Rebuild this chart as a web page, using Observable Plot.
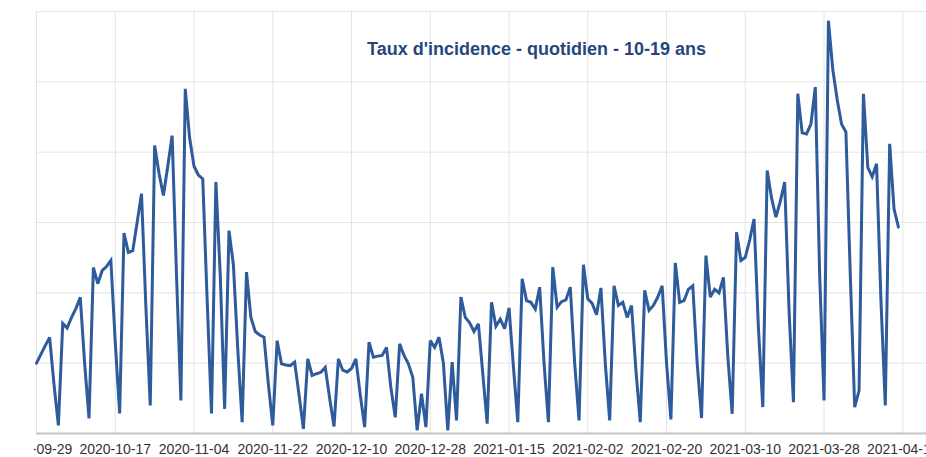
<!DOCTYPE html>
<html>
<head>
<meta charset="utf-8">
<script src="https://cdn.jsdelivr.net/npm/d3@7"></script>
<script src="https://cdn.jsdelivr.net/npm/@observablehq/plot@0.6"></script>
<style>
  html, body { margin: 0; padding: 0; background: white; overflow: hidden; }
  #chart svg { display: block; clip-path: inset(0 0 0 34px); }
</style>
</head>
<body>
<div id="chart"></div>
<script>
// Chart data
const title = "Taux d'incidence - quotidien - 10-19 ans";
const startDate = "2020-09-29";   // first daily value (Tuesday)
const domainEnd = "2021-04-20T10:00:00Z";
const values = [
  20, 22.5, 25, 27.3, 14, 2.3, 31.3,
  30, 33, 35.5, 38.7, 20, 4.3, 47.2,
  42.6, 46.3, 47.5, 49.2, 26, 5.7, 57,
  51.5, 52, 60, 68.2, 36, 8, 81.9,
  74, 67.7, 76, 84.7, 45, 9.4, 98,
  84, 76, 73.5, 72.4, 38, 5.7, 71.5,
  45, 7, 57.7, 48, 24, 3.2, 45.9,
  33, 29, 28, 27.4, 14, 2.3, 26.4,
  19.8, 19.5, 19.3, 20.3, 11, 1.3, 21.2,
  16.5, 17, 17.4, 18.8, 10, 2, 21.2,
  18, 17.5, 18.5, 21.2, 11, 1.8, 26,
  21.7, 22, 22.2, 24.5, 13, 4.6, 25.5,
  22.2, 19.8, 16, 0.9, 11.3, 1.8, 26.4,
  24.5, 27.4, 20, 0.9, 20.3, 3.7, 38.8,
  33, 31.5, 29, 31.2, 17, 2.8, 37.3,
  30.5, 32.5, 29.8, 35.7, 19, 3.2, 44,
  37.8, 37.3, 35.4, 41.6, 20, 3.2, 47.3,
  35.9, 37.5, 38, 41.6, 20, 3.7, 48,
  38.3, 37, 33.8, 41.4, 20, 3.7, 42,
  36.4, 37.3, 33, 36.4, 18, 3.2, 40.7,
  35, 36.4, 38.8, 42, 20, 4, 48.5,
  37.3, 37.8, 41, 42, 20, 4.4, 50.6,
  38.8, 41, 40, 44.4, 22, 5.6, 57.2,
  49.2, 50.1, 55, 61, 30, 7.5, 74.8,
  67, 61.5, 66, 71.5, 35, 8.9, 96.6,
  85.5, 85.2, 88, 98.5, 45, 9.4, 117.4,
  103.5, 95, 88, 85.7, 45, 7.5, 12.2,
  96.6, 75.7, 73, 76.7, 38, 8, 82.4,
  63.8, 58.7
];
const tickLabels = ["2020-09-29","2020-10-17","2020-11-04","2020-11-22","2020-12-10","2020-12-28",
  "2021-01-15","2021-02-02","2021-02-20","2021-03-10","2021-03-28","2021-04-15"];
const yGrid = [0, 20, 40, 60, 80, 100, 120];

// Build table
const start = new Date(startDate + "T00:00:00Z");
const rows = values.map((v, i) => ({date: d3.utcDay.offset(start, i), value: v}));
const ticks = tickLabels.map(s => new Date(s + "T00:00:00Z"));

const chart = Plot.plot({
  width: 926,
  height: 457,
  marginLeft: 36,
  marginRight: 0,
  marginTop: 11,
  marginBottom: 24,
  style: {fontFamily: "'Liberation Sans', Arial, sans-serif", fontSize: "14px", color: "#333", background: "white"},
  x: {type: "utc", domain: [start, new Date(domainEnd)], ticks: ticks, tickFormat: d3.utcFormat("%Y-%m-%d"), tickSize: 0, tickPadding: 11, label: null},
  y: {domain: [0, 120], axis: null},
  marks: [
    Plot.ruleY(yGrid, {stroke: "#e4e4e4", strokeWidth: 1}),
    Plot.ruleX(ticks, {stroke: "#e4e4e4", strokeWidth: 1}),
    Plot.ruleY([0], {stroke: "#c4c4c4", strokeWidth: 2}),
    Plot.lineY(rows, {x: "date", y: "value", stroke: "#2e5b9c", strokeWidth: 3, strokeLinejoin: "miter", strokeMiterlimit: 3}),
    Plot.text([title], {frameAnchor: "top", dx: 55, dy: 38, lineAnchor: "middle", textAnchor: "middle",
      fontSize: 18, fontWeight: "bold", fill: "#27467e"})
  ]
});
document.getElementById("chart").appendChild(chart);
</script>
</body>
</html>
